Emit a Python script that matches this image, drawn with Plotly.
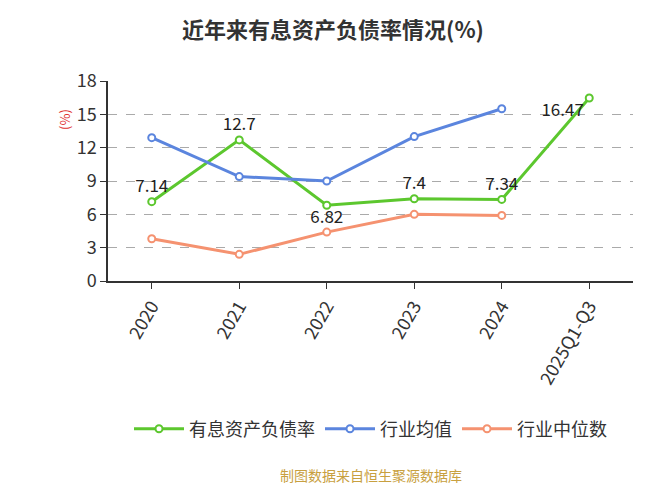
import plotly.graph_objects as go

years = ["2020", "2021", "2022", "2023", "2024", "2025Q1-Q3"]
company = [7.14, 12.7, 6.82, 7.4, 7.34, 16.47]
industry_avg = [12.9, 9.4, 9.0, 13.0, 15.5, None]
industry_median = [3.8, 2.4, 4.4, 6.0, 5.9, None]

fig = go.Figure()
fig.add_trace(go.Scatter(
    x=years, y=company, name="有息资产负债率", mode="lines+markers+text",
    line=dict(color="#5cc72e", width=3),
    marker=dict(size=7, color="white", line=dict(color="#5cc72e", width=2)),
    text=[str(v) for v in company],
    textposition=["top center", "top center", "bottom center", "top center", "top center", "bottom left"],
    textfont=dict(size=17, color="#222"),
))
fig.add_trace(go.Scatter(
    x=years, y=industry_avg, name="行业均值", mode="lines+markers",
    line=dict(color="#5b85de", width=3),
    marker=dict(size=7, color="white", line=dict(color="#5b85de", width=2)),
))
fig.add_trace(go.Scatter(
    x=years, y=industry_median, name="行业中位数", mode="lines+markers",
    line=dict(color="#f59270", width=3),
    marker=dict(size=7, color="white", line=dict(color="#f59270", width=2)),
))

fig.update_layout(
    width=650, height=488,
    margin=dict(l=100, r=25, t=73, b=215, autoexpand=False),
    plot_bgcolor="white", paper_bgcolor="white",
    font=dict(family="Noto Sans CJK SC", size=16, color="#333"),
    title=dict(text="<b>近年来有息资产负债率情况(%)</b>", x=0.5, y=0.955,
               xanchor="center", yanchor="middle", font=dict(size=22, color="#333")),
    showlegend=True,
    legend=dict(orientation="h", x=0.5, xanchor="center", y=-0.74, yanchor="middle",
                font=dict(size=18, color="#333"), itemwidth=50),
    xaxis=dict(type="category", range=[-0.5, 5.5], tickangle=-60,
               showline=True, linecolor="#333", linewidth=1.5,
               ticks="outside", tickcolor="#333", ticklen=6,
               tickfont=dict(size=18, color="#333"), showgrid=False),
    yaxis=dict(range=[0, 18], dtick=3, showline=True, linecolor="#333", linewidth=1.5,
               ticks="outside", tickcolor="#333", ticklen=6,
               tickfont=dict(size=18, color="#333"),
               gridcolor="#aaa", griddash="dash", zeroline=False),
    annotations=[
        dict(text="(%)", x=-0.105, y=0.87, xref="paper", yref="paper",
             textangle=-90, showarrow=False, font=dict(size=13, color="#e03030")),
        dict(text="制图数据来自恒生聚源数据库", x=0.5, y=-1.03, xref="paper", yref="paper",
             showarrow=False, font=dict(size=14, color="#c8a040")),
    ],
)
fig.write_html("out.html")
